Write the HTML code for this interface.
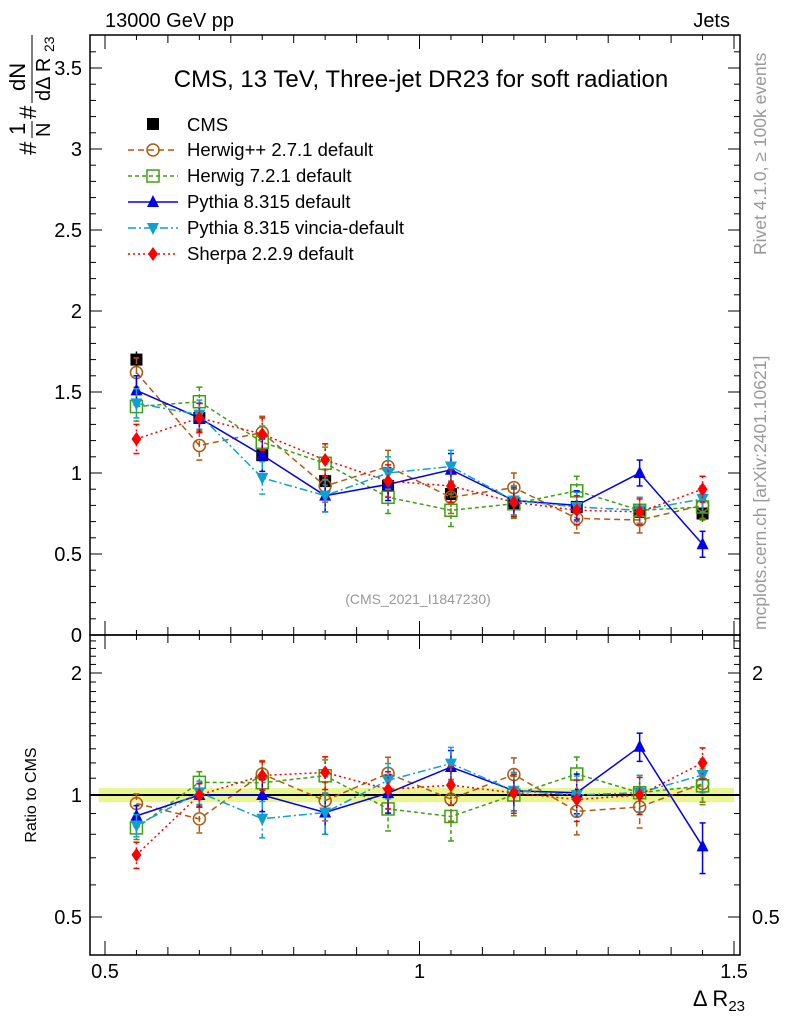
<!DOCTYPE html>
<html><head><meta charset="utf-8"><style>
body{margin:0;background:#fff;}
svg{display:block;font-family:"Liberation Sans",sans-serif;}
</style></head><body>
<svg id="c" width="786" height="1024" viewBox="0 0 786 1024"></svg>
<script>
const xCenters=[0.55,0.65,0.75,0.85,0.95,1.05,1.15,1.25,1.35,1.45];
const cmsVals=[1.70,1.34,1.11,0.95,0.92,0.87,0.81,0.79,0.76,0.75];
const herwigppVals=[1.62,1.17,1.25,0.92,1.04,0.85,0.91,0.72,0.71,0.80];
const herwig7Vals=[1.41,1.44,1.19,1.06,0.85,0.77,0.81,0.89,0.77,0.79];
const pythiaVals=[1.51,1.34,1.11,0.86,0.93,1.02,0.83,0.80,1.00,0.56];
const vinciaVals=[1.43,1.36,0.97,0.86,1.00,1.04,0.83,0.79,0.77,0.84];
const sherpaVals=[1.21,1.34,1.24,1.08,0.95,0.92,0.82,0.77,0.76,0.90];
const mcErr=[0.09,0.09,0.10,0.10,0.10,0.10,0.09,0.09,0.08,0.08];
const mainTicks=[0,0.5,1,1.5,2,2.5,3,3.5];
const ratioTicks=[0.5,1,2];
const ratioTicksRight=[0.5,2];
const xTicks=[0.5,1,1.5];

const svg=document.getElementById('c');
const NS='http://www.w3.org/2000/svg';
function el(tag,attrs,parent){const e=document.createElementNS(NS,tag);for(const k in attrs)e.setAttribute(k,attrs[k]);(parent||svg).appendChild(e);return e;}
const L=90,R=740,T=35,M=635,B=955;
const X=v=>105+(v-0.5)*629;
const Y=v=>635-v*162;
const YR=v=>795-Math.log2(v)*122;

let band=el('rect',{x:X(0.49),y:YR(1.04),width:X(1.5)-X(0.49),height:YR(0.96)-YR(1.04),fill:'#e8f590'});


let ref=el('line',{x1:L,x2:R,y1:YR(1),y2:YR(1),stroke:'#000','stroke-width':2});



let f1=el('rect',{x:L,y:T,width:R-L,height:M-T,fill:'none',stroke:'#000','stroke-width':1.5});


let f2=el('rect',{x:L,y:M,width:R-L,height:B-M,fill:'none',stroke:'#000','stroke-width':1.5});



for(let v=0;v<=3.7;v+=0.1){const y=Y(v);if(y<T)break;const maj=Math.abs(v*2-Math.round(v*2))<1e-6;const len=maj?12:6;
el('line',{x1:L,x2:L+len,y1:y,y2:y,stroke:'#000'});el('line',{x1:R,x2:R-len,y1:y,y2:y,stroke:'#000'});}
mainTicks.forEach(v=>{const t=el('text',{x:L-8,y:Y(v)+7,'text-anchor':'end','font-size':20});t.textContent=String(v);

});
for(let v=0.4;v<=2.5;v+=0.1){const y=YR(v);if(y<M||y>B)continue;const maj=[0.5,1,2].some(m=>Math.abs(m-v)<1e-6);const len=maj?12:6;
el('line',{x1:L,x2:L+len,y1:y,y2:y,stroke:'#000'});el('line',{x1:R,x2:R-len,y1:y,y2:y,stroke:'#000'});}
ratioTicks.forEach(v=>{const t=el('text',{x:L-8,y:YR(v)+7,'text-anchor':'end','font-size':20});t.textContent=String(v);

});
ratioTicksRight.forEach(v=>{const t2=el('text',{x:R+12,y:YR(v)+7,'font-size':20});t2.textContent=String(v);

});
for(let v=0.48;v<=1.51;v+=0.01){const x=X(v);if(x<L||x>R)continue;const r=Math.round(v*100);if(r%5)continue;const maj=r%50==0;const med=r%10==0;const len=maj?14:(med?8:5);
[M,B].forEach(b=>el('line',{x1:x,x2:x,y1:b,y2:b-len,stroke:'#000'}));[T,M].forEach(b=>el('line',{x1:x,x2:x,y1:b,y2:b+len,stroke:'#000'}));}
xTicks.forEach(v=>{const t=el('text',{x:X(v),y:978,'text-anchor':'middle','font-size':20});t.textContent=String(v);

});

function txt(x,y,s,size,name,extra){const t=el('text',Object.assign({x:x,y:y,'font-size':size},extra||{}));t.textContent=s;return t;}
txt(105,27,'13000 GeV pp',20,'header-left');
txt(730,27,'Jets',20,'header-right',{'text-anchor':'end'});
txt(421,87,'CMS, 13 TeV, Three-jet DR23 for soft radiation',24,'plot-title',{'text-anchor':'middle'});
txt(418,604,'(CMS_2021_I1847230)',14,'analysis-id',{'text-anchor':'middle',fill:'#999'});
txt(766,630,'mcplots.cern.ch [arXiv:2401.10621]',17.5,'source-label',{fill:'#999',transform:'rotate(-90 766 630)'});
txt(766,255,'Rivet 4.1.0, \u2265 100k events',17.5,'rivet-label',{fill:'#999',transform:'rotate(-90 766 255)'});
const xl=txt(745,1006,'',22,'x-axis-title',{'text-anchor':'end'});
const a=el('tspan',{},xl);a.textContent='\u0394 R';const s=el('tspan',{'font-size':15,dy:5},xl);s.textContent='23';
txt(36,795,'Ratio to CMS',16,'ratio-y-axis-title',{'text-anchor':'middle',transform:'rotate(-90 36 795)'});
const yl=el('g',{transform:'translate(36 155) rotate(-90)'});
let tt=el('text',{x:0,y:0,'font-size':24},yl);tt.textContent='#';
let t1=el('text',{x:20,y:-11,'font-size':22},yl);t1.textContent='1';
el('line',{x1:17,x2:34,y1:-4,y2:-4,stroke:'#000'},yl);
let t2=el('text',{x:18,y:14,'font-size':20},yl);t2.textContent='N';
let t3=el('text',{x:36,y:0,'font-size':24},yl);t3.textContent='#';
let t4=el('text',{x:64,y:-11,'font-size':22},yl);t4.textContent='dN';
el('line',{x1:52,x2:120,y1:-4,y2:-4,stroke:'#000'},yl);
let t5=el('text',{x:54,y:14,'font-size':20},yl);t5.textContent='d\u0394 R';
let t6=el('text',{x:103,y:18,'font-size':14},yl);t6.textContent='23';

function marker(g,type,x,y,col){
 if(type=='sq')el('rect',{x:x-6,y:y-6,width:12,height:12,fill:'#000'},g);
 else if(type=='circ')el('circle',{cx:x,cy:y,r:6,fill:'none',stroke:col,'stroke-width':1.5},g);
 else if(type=='osq')el('rect',{x:x-6,y:y-6,width:12,height:12,fill:'none',stroke:col,'stroke-width':1.5},g);
 else if(type=='tu')el('polygon',{points:`${x},${y-7} ${x-6},${y+5} ${x+6},${y+5}`,fill:col},g);
 else if(type=='td')el('polygon',{points:`${x},${y+7} ${x-6},${y-5} ${x+6},${y-5}`,fill:col},g);
 else if(type=='dia')el('polygon',{points:`${x},${y-7} ${x-5},${y} ${x},${y+7} ${x+5},${y}`,fill:col},g);
}
const series=[
 {name:'Herwig++ 2.7.1 default',vals:herwigppVals,col:'#b05a10',dash:'6,4',m:'circ',id:'herwigpp'},
 {name:'Herwig 7.2.1 default',vals:herwig7Vals,col:'#40a010',dash:'4,3',m:'osq',id:'herwig7'},
 {name:'Pythia 8.315 default',vals:pythiaVals,col:'#0000ee',dash:'',m:'tu',id:'pythia'},
 {name:'Pythia 8.315 vincia-default',vals:vinciaVals,col:'#10a0d0',dash:'8,3,2,3',m:'td',id:'vincia'},
 {name:'Sherpa 2.2.9 default',vals:sherpaVals,col:'#ff0000',dash:'2,3',m:'dia',id:'sherpa'}];

const cg=el('g',{});
xCenters.forEach((x,i)=>{el('line',{x1:X(x),x2:X(x),y1:Y(cmsVals[i]+0.05),y2:Y(cmsVals[i]-0.05),stroke:'#000','stroke-width':1.5},cg);});

function drawSeries(s,Yf,valf,grpName,ratio){
 const g=el('g',{});
 const pts=xCenters.map((x,i)=>X(x)+','+Yf(valf(i))).join(' ');
 el('polyline',{points:pts,fill:'none',stroke:s.col,'stroke-width':1.5,'stroke-dasharray':s.dash},g);
 xCenters.forEach((x,i)=>{const v=valf(i);const e=mcErr[i]*(ratio?1/cmsVals[i]:1);
  el('line',{x1:X(x),x2:X(x),y1:Yf(v+e),y2:Yf(Math.max(v-e,0.05)),stroke:s.col,'stroke-width':1.5,'stroke-dasharray':s.dash},g);
  [v+e,Math.max(v-e,0.05)].forEach(w=>el('line',{x1:X(x)-3,x2:X(x)+3,y1:Yf(w),y2:Yf(w),stroke:s.col,'stroke-width':1.5},g));
  marker(g,s.m,X(x),Yf(v),s.col);});
}
series.forEach(s=>drawSeries(s,Y,i=>s.vals[i],s.id+'-series',false));
xCenters.forEach((x,i)=>marker(cg,'sq',X(x),Y(cmsVals[i]),'#000'));
series.forEach(s=>drawSeries(s,YR,i=>s.vals[i]/cmsVals[i],s.id+'-ratio-series',true));

const lg=el('g',{});
const e0=el('g',{},lg);
marker(e0,'sq',153,124,'#000');let lt=el('text',{x:187,y:131,'font-size':18.5},e0);lt.textContent='CMS';
series.forEach((s,k)=>{const y=150+k*26;const e=el('g',{},lg);
 el('line',{x1:128,x2:178,y1:y,y2:y,stroke:s.col,'stroke-width':1.5,'stroke-dasharray':s.dash},e);
 marker(e,s.m,153,y,s.col);const t=el('text',{x:187,y:y+6,'font-size':18.5},e);t.textContent=s.name;});
</script>
</body></html>
